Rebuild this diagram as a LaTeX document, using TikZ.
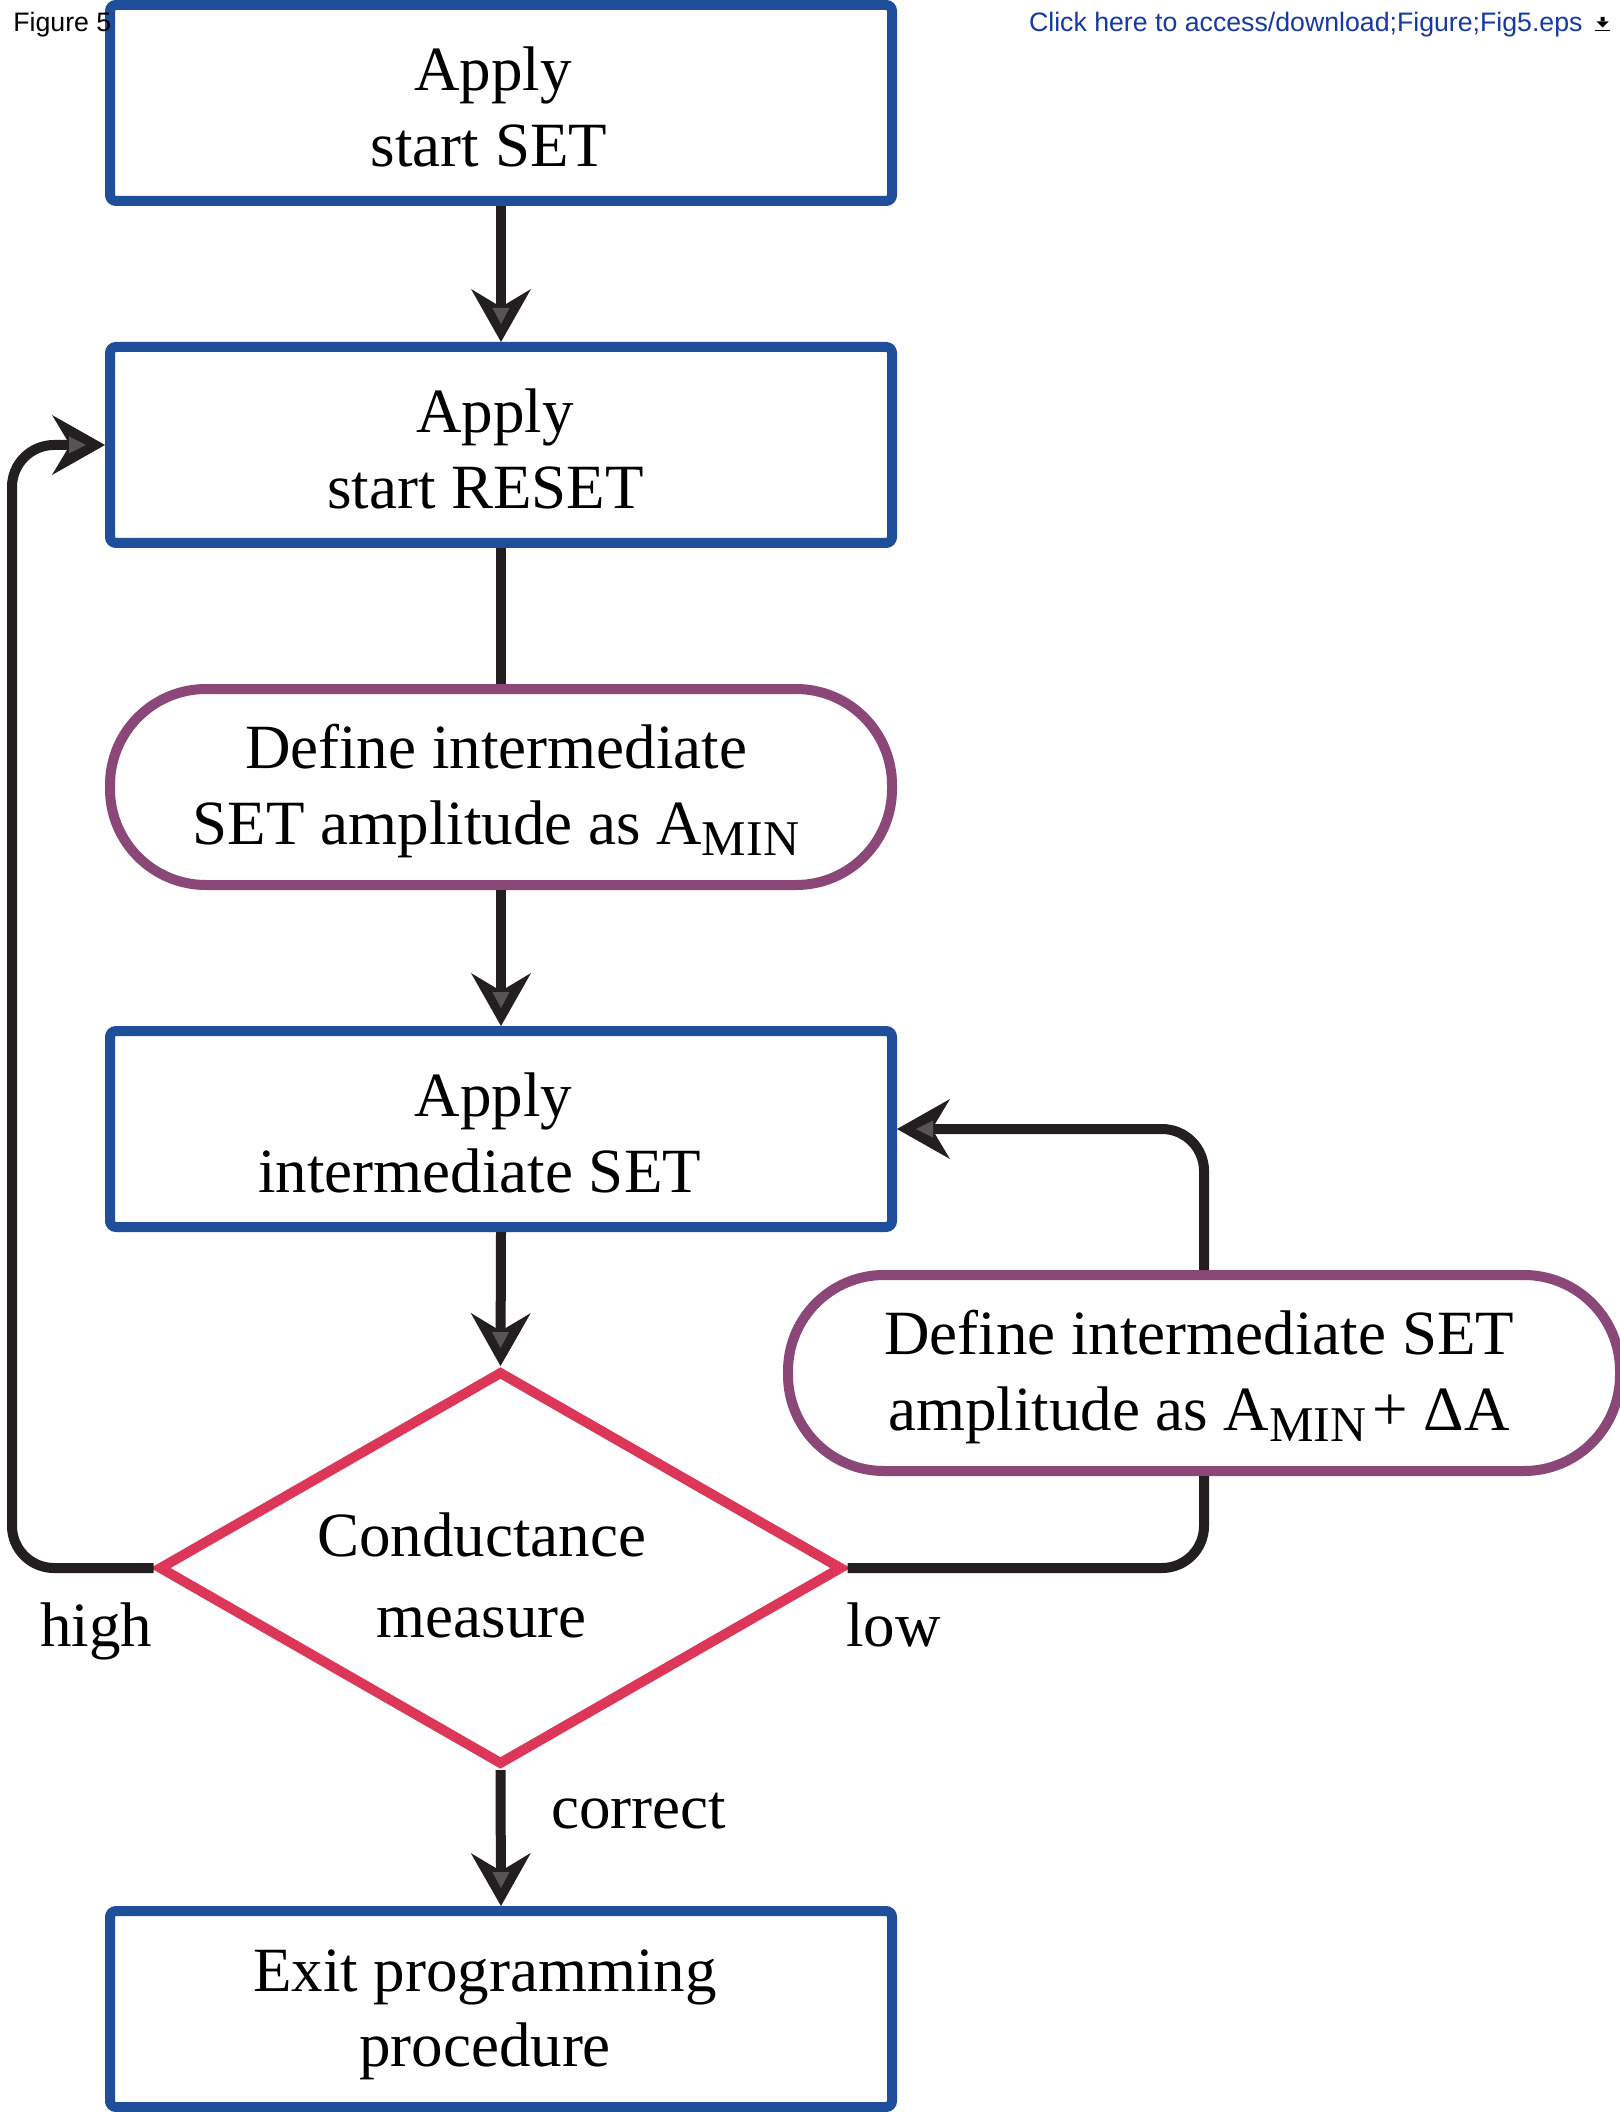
\documentclass[tikz,border=0pt]{standalone}
\usepackage{fontspec}
\setmainfont{Liberation Serif}
\newfontfamily\hdrfont{Liberation Sans}
\usetikzlibrary{shapes.geometric,arrows.meta,calc}
\definecolor{boxblue}{RGB}{31,78,154}
\definecolor{pillpurple}{RGB}{138,71,119}
\definecolor{diared}{RGB}{220,55,88}
\definecolor{linek}{RGB}{35,31,32}
\definecolor{headgray}{RGB}{85,85,85}
\definecolor{linkblue}{RGB}{22,58,160}
\newcommand\lowsub[1]{\raisebox{-5.5pt}{\fontsize{25}{25}\selectfont #1}}
\begin{document}
\begin{tikzpicture}[x=0.5pt,y=-0.5pt,
  txt/.style={font=\fontsize{31.5}{37.7}\selectfont, align=center, inner sep=0pt},
  dtxt/.style={font=\fontsize{31.5}{40.5}\selectfont, align=center, inner sep=0pt},
  hdr/.style={font=\hdrfont\fontsize{13.35}{15}\selectfont, inner sep=0pt},
  procbox/.style={draw=boxblue, line width=5pt, rounded corners=3pt, minimum width=391pt, minimum height=98pt, inner sep=0pt, fill=white},
  pillbox/.style={draw=pillpurple, line width=5pt, rounded corners=48pt, minimum height=98pt, inner sep=0pt, fill=white},
  decbox/.style={diamond, draw=diared, line width=5pt, minimum width=342pt, minimum height=197pt, inner sep=0pt, fill=white},
  conn/.style={draw=linek, line width=5pt, rounded corners=21pt},
  arr/.style={conn, -{Stealth[length=26.5pt,width=30pt,inset=9pt,line width=0pt]}},
  ghd/.pic={\fill[headgray] (0,-18) -- (-8.5,-34) -- (8.5,-34) -- cycle;},
  ghr/.pic={\fill[headgray] (-19,0) -- (-36,-8.5) -- (-36,8.5) -- cycle;},
  ghl/.pic={\fill[headgray] (19,0) -- (36,-8.5) -- (36,8.5) -- cycle;}
]
\fill[white] (0,0) rectangle (1619,2112);
\useasboundingbox (0,0) rectangle (1619,2112);

% shapes
\node[procbox, label={[txt,xshift=-6pt,yshift=-2pt]center:\hspace*{4pt}Apply\\start SET}] (b1) at (501,103) {};
\node[procbox, label={[txt,xshift=-7.8pt,yshift=-2pt]center:\hspace*{9.5pt}Apply\\start RESET}] (b2) at (501,445) {};
\node[pillbox, minimum width=391pt, label={[txt,xshift=-2.5pt,yshift=-2pt]center:Define intermediate\\SET amplitude as A\lowsub{MIN}}] (p1) at (501,787) {};
\node[procbox, label={[txt,xshift=-10.7pt,yshift=-2pt]center:\hspace*{14pt}Apply\\intermediate SET}] (b3) at (501,1129) {};
\node[decbox, label={[dtxt,xshift=-9.5pt,yshift=-3.5pt]center:Conductance\\measure}] (dia) at (500.5,1568) {};
\node[procbox, label={[txt,xshift=-8pt,yshift=-3pt]center:Exit programming\\procedure}] (b4) at (501,2009) {};
\node[pillbox, minimum width=416pt, label={[txt,xshift=-2.5pt,yshift=-2pt]center:Define intermediate SET\\amplitude as A\lowsub{MIN}\hspace{3pt}+ ΔA}] (p2) at (1204,1373) {};

\coordinate (lx) at (12,0);

% connectors
\draw[arr] (b1.south) -- (b2.north);
\draw[conn] (b2.south) -- (p1.north);
\draw[arr] (p1.south) -- (b3.north);
\draw[arr] (b3.south) -- (dia.north);
\draw[arr] (dia.south) -- (b4.north);
\draw[arr] (dia.west) -- (dia.west -| lx) -- (b2.west -| lx) -- (b2.west);
\draw[conn] (dia.east) -- (dia.east -| p2.south) -- (p2.south);
\draw[arr] (p2.north) -- (p2.north |- b3.east) -- (b3.east);

\pic at (b2.north) {ghd};
\pic at (b3.north) {ghd};
\pic at (dia.north) {ghd};
\pic at (b4.north) {ghd};
\pic at (b2.west) {ghr};
\pic at (b3.east) {ghl};

% edge labels
\node[txt, anchor=base west] (lhigh) at (40,1646) {high};
\node[txt, anchor=base west] (llow) at (846,1646) {low};
\node[txt, anchor=base west] (lcorr) at (551,1828) {correct};

% header
\node[hdr, anchor=base west] (fig) at (13,32) {Figure 5};
\node[hdr, anchor=base east, text=linkblue] (link) at (1583,32) {Click here to access/download;Figure;Fig5.eps};
\draw[black, line width=0.8pt] (1595,30.5) -- (1610,30.5);
\fill[black] (1600.5,17) rectangle (1604.5,22) (1596.5,21.5) -- (1608.5,21.5) -- (1602.5,27.5) -- cycle;
\end{tikzpicture}
\end{document}
